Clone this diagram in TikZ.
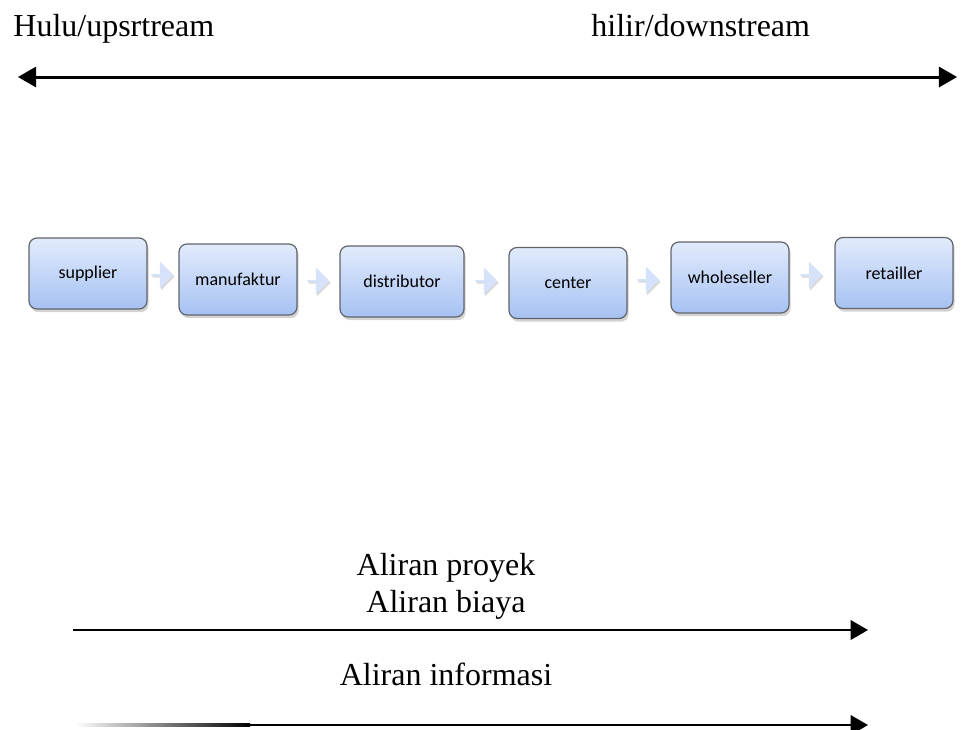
\documentclass[tikz,border=0pt]{standalone}
\usepackage{fontspec}
\setmainfont{Liberation Serif}
\newfontfamily\boxfont{Carlito}
\usepackage{tikz}
\usetikzlibrary{shapes}
\usetikzlibrary{shapes.arrows}
\usetikzlibrary{arrows}
\usetikzlibrary{shadows}

\definecolor{boxtop}{HTML}{E2EBFC}
\definecolor{boxbot}{HTML}{A6C2F3}
\definecolor{boxline}{HTML}{616468}
\definecolor{blockfill}{HTML}{D6E2F9}

\tikzset{
  chainbox/.style={draw=boxline, line width=0.6pt, rounded corners=4pt,
    top color=boxtop, bottom color=boxbot,
    minimum width=59pt, minimum height=35.5pt,
    font=\boxfont\fontsize{9}{11}\selectfont,
    drop shadow={shadow xshift=0.8pt, shadow yshift=-1.6pt, opacity=0.35}},
  blockarrow/.style={single arrow, fill=blockfill, draw=none,
    minimum height=11pt, minimum width=13.5pt,
    single arrow head extend=3pt, inner sep=0pt,
    drop shadow={shadow xshift=0.6pt, shadow yshift=-0.9pt, opacity=0.3}},
  flowtext/.style={font=\fontsize{16}{18.5}\selectfont}
}

\begin{document}
\begin{tikzpicture}[x=0.5pt, y=-0.5pt]
\useasboundingbox (0,0) rectangle (964,729);

% upstream / downstream
\node[flowtext, anchor=base west, inner sep=0pt] (up) at (13,36) {Hulu/upsrtream};
\node[flowtext, anchor=base west, inner sep=0pt] (down) at (591,36) {hilir/downstream};
\coordinate (ul) at (18,77);
\coordinate (dr) at (957,77);
\draw[line width=1.5pt, triangle 60-triangle 60] (ul) -- (dr);

% chain
\node[chainbox] (supplier) at (88,273.5) {supplier};
\node[chainbox] (manufaktur) at (238,279.5) {manufaktur};
\node[chainbox, minimum width=62pt] (distributor) at (402,281.5) {distributor};
\node[chainbox] (center) at (568,283) {center};
\node[chainbox] (wholeseller) at (730,277.5) {wholeseller};
\node[chainbox] (retailler) at (894,273) {retailler};

\node[blockarrow] (b1) at (162,275) {};
\node[blockarrow] (b2) at (318,281) {};
\node[blockarrow] (b3) at (486,281) {};
\node[blockarrow] (b4) at (648,280) {};
\node[blockarrow] (b5) at (811,275) {};

% flows
\node[flowtext, anchor=base, align=center, inner sep=0pt] (proyek) at (446,612)
  {Aliran proyek\\Aliran biaya};
\coordinate (f1s) at (73,630);
\coordinate (f1e) at (868,630);
\draw[line width=1.4pt, -triangle 60] (f1s) -- (f1e);

\node[flowtext, anchor=base, inner sep=0pt] (info) at (446,685) {Aliran informasi};
\coordinate (f2s) at (75,725);
\coordinate (f2m) at (250,725);
\coordinate (f2e) at (868,725);
\shade[left color=white, right color=black] ([yshift=0.7pt]f2s) rectangle ([yshift=-0.7pt]f2m);
\draw[line width=1.4pt, -triangle 60] (f2m) -- (f2e);
\end{tikzpicture}
\end{document}
